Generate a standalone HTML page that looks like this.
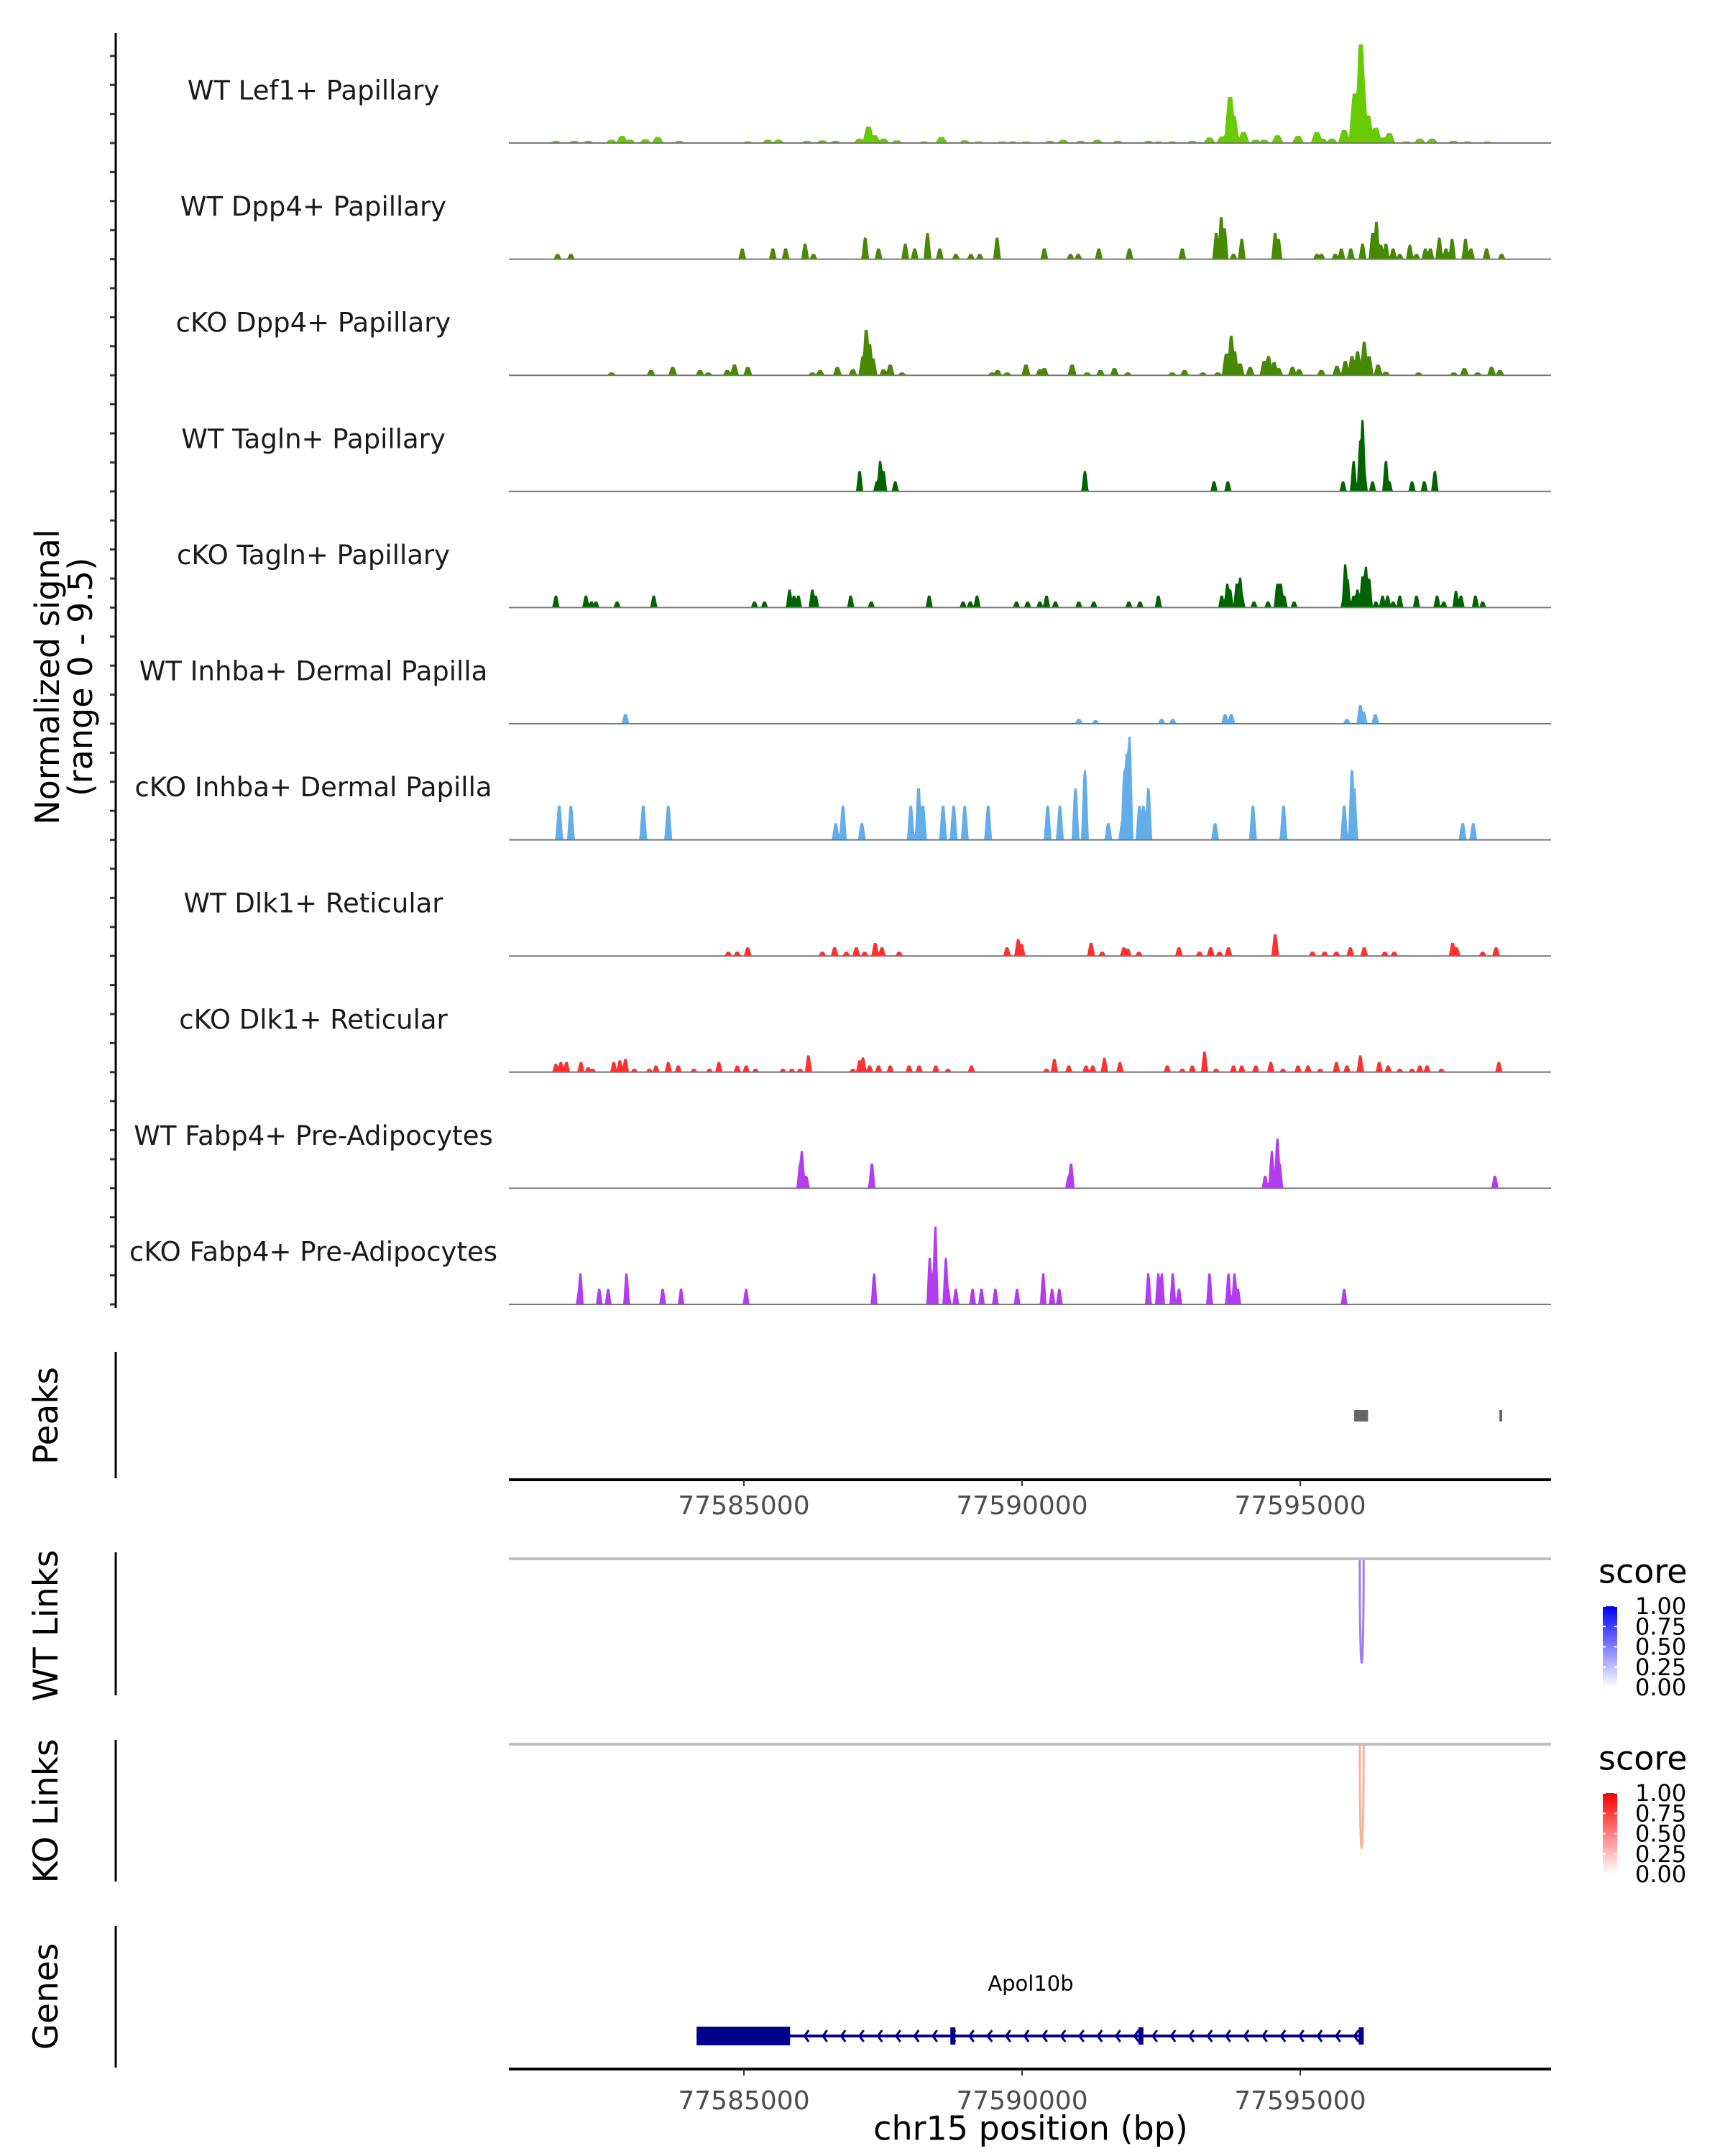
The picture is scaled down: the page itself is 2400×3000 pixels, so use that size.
<!DOCTYPE html>
<html><head><meta charset="utf-8"><style>
body{margin:0;background:#fff;}
svg{display:block;font-family:"DejaVu Sans","Liberation Sans",sans-serif;}
</style></head><body>
<svg id="fig" width="2400" height="3000" viewBox="0 0 2400 3000" xmlns="http://www.w3.org/2000/svg"></svg>
<script>
const REGION_START_BP = 77580000;
const xTickLabels = ["77585000","77590000","77595000"];
const xTickKb = [5, 10, 15];
const trackNames = ["WT Lef1+ Papillary","WT Dpp4+ Papillary","cKO Dpp4+ Papillary","WT Tagln+ Papillary","cKO Tagln+ Papillary","WT Inhba+ Dermal Papilla","cKO Inhba+ Dermal Papilla","WT Dlk1+ Reticular","cKO Dlk1+ Reticular","WT Fabp4+ Pre-Adipocytes","cKO Fabp4+ Pre-Adipocytes"];
// peak positions (kb from region start) and signal heights (0-9.5)
const lef1Pos = [1.62,1.95,2.20,2.62,2.81,2.95,3.23,3.45,3.84,5.07,5.43,5.62,6.13,6.41,6.65,7.08,7.24,7.35,7.51,7.75,8.24,8.55,8.97,9.22,9.64,9.83,10.07,10.50,10.74,11.05,11.35,11.72,12.27,12.45,12.70,13.06,13.37,13.60,13.74,13.80,13.98,14.20,14.35,14.59,14.96,15.30,15.40,15.57,15.79,15.98,16.09,16.12,16.22,16.36,16.50,16.60,16.91,17.15,17.37,17.76,18.01,18.37];
const lef1Val = [.2,.2,.2,.3,.65,.3,.35,.55,.2,.15,.3,.3,.2,.25,.2,.4,1.5,.7,.4,.25,.15,.55,.25,.15,.15,.15,.15,.2,.3,.2,.3,.2,.2,.15,.15,.2,.5,.6,4.2,2.5,1.0,.3,.3,.7,.65,1.0,.4,.4,1.2,4.5,9.0,5.5,2.5,1.4,.5,.9,.15,.4,.4,.2,.15,.15];
const dpp4WtPos = [1.65,1.89,4.97,5.52,5.75,6.10,6.25,7.18,7.42,7.90,8.07,8.30,8.52,8.81,9.08,9.24,9.55,10.40,10.87,11.01,11.38,11.93,12.88,13.49,13.58,13.64,13.80,13.95,14.55,14.61,15.30,15.38,15.63,15.74,15.91,16.12,16.30,16.37,16.45,16.54,16.67,16.79,16.97,17.09,17.25,17.34,17.50,17.62,17.73,17.97,18.07,18.35,18.62];
const dpp4WtVal = [.48,.48,.98,.98,.98,1.42,.48,1.97,.98,1.42,.98,2.4,.98,.48,.48,.48,1.97,.98,.48,.48,.98,.98,.98,2.4,3.82,2.84,.48,1.86,2.4,1.86,.48,.48,.48,.98,.98,1.42,2.4,3.39,1.31,1.42,.98,.48,1.31,.48,.98,.98,1.97,.98,1.86,1.86,.98,.98,.48];
const dpp4KoPos = [2.62,3.33,3.72,4.21,4.36,4.70,4.83,5.07,6.23,6.37,6.68,6.96,7.14,7.20,7.26,7.32,7.51,7.63,7.84,9.46,9.56,9.73,10.07,10.32,10.40,10.90,11.17,11.41,11.66,11.90,12.70,12.92,13.25,13.52,13.67,13.76,13.82,13.92,14.10,14.35,14.43,14.53,14.61,14.86,14.98,15.38,15.66,15.81,15.93,16.03,16.08,16.15,16.24,16.40,16.54,17.13,17.76,17.95,18.19,18.44,18.59];
const dpp4KoVal = [.26,.48,.76,.48,.26,.48,.98,.76,.26,.48,.76,.55,1.75,4.15,2.84,1.53,.55,.98,.26,.26,.48,.26,.98,.55,.66,.98,.26,.48,.66,.26,.26,.48,.26,.26,1.97,3.6,2.18,1.09,.76,1.31,1.75,1.2,.66,.76,.55,.48,.87,1.31,1.75,2.18,1.31,3.06,1.75,.98,.33,.26,.26,.66,.26,.76,.48];
const taglnWtPos = [7.08,7.39,7.45,7.51,7.72,11.13,13.45,13.70,15.77,15.96,16.08,16.12,16.15,16.30,16.54,16.60,17.01,17.23,17.42];
const taglnWtVal = [1.86,.92,2.77,1.86,.92,1.86,.92,.92,.92,2.77,4.63,6.51,1.86,.92,2.77,.92,.92,.92,1.86];
const taglnKoPos = [1.62,2.16,2.26,2.34,2.72,3.38,5.19,5.37,5.82,5.90,5.98,6.23,6.29,6.92,7.29,8.33,8.94,9.07,9.19,9.90,10.10,10.32,10.44,10.60,11.02,11.29,11.92,12.12,12.45,13.59,13.69,13.74,13.86,13.92,13.95,14.17,14.42,14.59,14.65,14.71,14.89,15.79,15.81,15.85,15.96,16.03,16.12,16.18,16.24,16.36,16.48,16.57,16.67,16.79,17.09,17.46,17.58,17.80,17.89,18.15,18.28];
const taglnKoVal = [1.09,1.09,.55,.55,.55,1.09,.55,.55,1.64,1.09,1.09,1.64,1.09,1.09,.55,1.09,.55,.55,1.09,.55,.55,.55,1.09,.55,.55,.55,.55,.55,1.09,1.09,2.18,1.64,2.18,2.73,1.09,.55,.55,2.18,2.18,1.09,.55,1.09,3.93,2.62,1.09,1.64,2.84,3.71,2.62,.55,1.09,1.09,.55,1.09,1.09,1.09,.55,1.53,1.09,1.09,.55];
const inhbaWtPos = [2.87,11.02,11.32,12.51,12.71,13.65,13.76,15.84,16.08,16.14,16.35];
const inhbaWtVal = [.87,.44,.33,.44,.44,.87,.87,.44,1.7,1.09,.87];
const inhbaKoPos = [1.68,1.89,3.19,3.64,6.65,6.78,7.12,8.00,8.14,8.22,8.58,8.77,8.97,9.39,10.46,10.68,10.96,11.13,11.55,11.80,11.84,11.88,11.93,12.11,12.18,12.27,13.47,14.15,14.70,15.79,15.93,15.97,17.92,18.11];
const inhbaKoVal = [3.12,3.12,3.12,3.12,1.53,3.12,1.53,3.12,4.7,3.12,3.12,3.12,3.12,3.12,3.12,3.12,4.7,6.33,1.53,1.53,6.33,7.86,9.4,3.12,3.12,4.7,1.53,3.12,3.12,3.12,6.33,4.7,1.53,1.53];
const dlk1WtPos = [4.72,4.88,5.07,6.41,6.63,6.84,7.02,7.17,7.36,7.48,7.79,9.73,9.93,9.99,11.24,11.44,11.83,11.90,12.10,12.82,13.19,13.39,13.55,13.71,14.55,15.22,15.44,15.65,15.90,16.15,16.52,16.69,17.74,17.81,18.28,18.52];
const dlk1WtVal = [.39,.39,.79,.39,.79,.39,.79,.39,1.2,.79,.39,.79,1.53,1.09,1.2,.39,.79,.66,.39,.79,.39,.79,.39,.79,1.97,.39,.39,.39,.79,.79,.39,.39,1.2,.79,.39,.79];
const dlk1KoPos = [1.62,1.71,1.81,2.07,2.20,2.28,2.66,2.77,2.87,3.03,3.30,3.42,3.64,3.82,4.10,4.38,4.55,4.88,5.04,5.21,5.70,5.86,6.01,6.16,6.96,7.08,7.14,7.26,7.42,7.63,7.97,8.15,8.45,8.67,9.09,10.44,10.58,10.84,11.15,11.27,11.48,11.76,12.61,12.88,13.06,13.28,13.49,13.80,13.95,14.20,14.47,14.69,14.96,15.14,15.36,15.65,15.84,16.08,16.42,16.58,16.79,17.01,17.15,17.28,17.54,18.57];
const dlk1KoVal = [.76,.92,.92,.92,.44,.31,.92,1.09,1.2,.31,.31,.61,.92,.61,.31,.31,.92,.61,.61,.31,.31,.31,.31,1.53,.31,1.09,1.35,.61,.61,.61,.61,.61,.61,.31,.61,.31,1.2,.61,.61,.61,1.31,.92,.61,.31,.61,1.86,.31,.61,.61,.61,.92,.31,.61,.61,.31,.92,.61,1.53,.92,.61,.31,.31,.61,.61,.31,.92];
const fabp4WtPos = [6.01,6.04,6.12,7.29,7.30,10.84,10.88,14.37,14.49,14.59,14.63,18.50];
const fabp4WtVal = [2.25,3.39,1.14,1.14,2.25,1.14,2.25,1.14,3.39,4.52,2.25,1.14];
const fabp4KoPos = [2.04,2.06,2.40,2.56,2.89,3.54,3.87,5.04,7.34,8.34,8.39,8.44,8.63,8.67,8.81,9.11,9.27,9.52,9.91,10.38,10.54,10.67,12.27,12.45,12.51,12.71,12.82,13.37,13.71,13.82,13.88,15.79];
const fabp4KoVal = [1.42,2.84,1.42,1.42,2.84,1.42,1.42,1.42,2.84,4.26,2.84,7.1,4.26,1.42,1.42,1.42,1.42,1.42,1.42,2.84,1.42,1.42,2.84,2.84,2.84,2.84,1.42,2.84,2.84,2.84,1.42,1.42];
const peakStartKb = [15.97, 18.58];
const peakEndKb = [16.22, 18.63];
const geneUtrKb = [4.15, 5.83];
const geneSpanKb = [4.15, 16.12];
const geneExonKb = [8.75, 12.13, 16.09];
const wtLinkKb = [16.07, 16.14];
const koLinkKb = [16.07, 16.14];
const legendTicks = ["1.00","0.75","0.50","0.25","0.00"];

const NS="http://www.w3.org/2000/svg";
const svg=document.getElementById('fig');
function mk(tag,attrs,parent){const e=document.createElementNS(NS,tag);for(const k in attrs)e.setAttribute(k,attrs[k]);(parent||svg).appendChild(e);return e;}
const X0=708,X1=2158;
function xs(kb){return 1035+(kb-5)*77.4;}
const TRACK_H=145, YMAX=9.5, B0=199, DY=161.6;
function ys(v,base){return base-v/YMAX*TRACK_H;}

const tracks=[[lef1Pos,lef1Val,'#66cc00',0.22],[dpp4WtPos,dpp4WtVal,'#458a00',0.14],[dpp4KoPos,dpp4KoVal,'#458a00',0.16],[taglnWtPos,taglnWtVal,'#006400',0.13],[taglnKoPos,taglnKoVal,'#006400',0.13],[inhbaWtPos,inhbaWtVal,'#62adea',0.14],[inhbaKoPos,inhbaKoVal,'#62adea',0.14],[dlk1WtPos,dlk1WtVal,'#ff3030',0.14],[dlk1KoPos,dlk1KoVal,'#ff3030',0.13],[fabp4WtPos,fabp4WtVal,'#b33cee',0.13],[fabp4KoPos,fabp4KoVal,'#b33cee',0.12]];

const axis=mk('line',{x1:161,y1:46,x2:161,y2:1820,stroke:'#000','stroke-width':3});


for(let t=0;t<11;t++){
  const base=B0+t*DY;
  for(let k=0;k<4;k++){
    const ty=base-k*DY/4;
    const tk=mk('line',{x1:153,y1:ty,x2:160,y2:ty,stroke:'#333','stroke-width':3});
    
    
  }
}
const yt=mk('text',{x:0,y:0,'font-size':46,'text-anchor':'middle',fill:'#000',transform:'translate(82,942) rotate(-90)'});


yt.innerHTML='<tspan x="0" dy="0">Normalized signal</tspan><tspan x="0" dy="46">(range 0 - 9.5)</tspan>';

tracks.forEach((tr,i)=>{
  const [pos,val,col,w]=tr; const base=B0+i*DY;
  const lbl=mk('text',{x:436,y:base-71,'font-size':37,'text-anchor':'middle','dominant-baseline':'middle',fill:'#1a1a1a'});
  lbl.textContent=trackNames[i];
  
  
  let d='M'+X0+','+base;
  for(let px=X0;px<=X1;px++){
    const kb=5+(px-1035)/77.4; let v=0;
    for(let j=0;j<pos.length;j++){const dd=Math.abs(kb-pos[j]);if(dd<w/2){const f=Math.min(1,1.6*(1-dd/(w/2)));v=Math.max(v,val[j]*f);}}
    d+=' L'+px+','+ys(v,base).toFixed(1);
  }
  d+=' L'+X1+','+base+' Z';
  const area=mk('path',{d:d,fill:col,stroke:'none'});
  
  
  const bl=mk('line',{x1:X0,y1:base,x2:X1,y2:base,stroke:'#777','stroke-width':2});
  
  
});

function sideLabel(txt,y,name,y1,y2){
  const t=mk('text',{x:0,y:0,'font-size':47,'text-anchor':'middle',fill:'#000',transform:'translate(80,'+y+') rotate(-90)'});
  t.textContent=txt;
  
  
  const l=mk('line',{x1:161,y1:y1,x2:161,y2:y2,stroke:'#000','stroke-width':3});
  
  
}
sideLabel('Peaks',1970,'peaks-title',1881,2057);
sideLabel('WT Links',2262,'wt-links-title',2160,2359);
sideLabel('KO Links',2520,'ko-links-title',2421,2618);
sideLabel('Genes',2778,'genes-title',2680,2877);

peakStartKb.forEach((s,i)=>{
  const r=mk('rect',{x:xs(s),y:1962,width:Math.max(3,xs(peakEndKb[i])-xs(s)),height:16,fill:'#666'});
  
  
});

function xAxis(y,labY,name){
  const a=mk('line',{x1:X0,y1:y,x2:X1,y2:y,stroke:'#000','stroke-width':4});
  
  
  xTickKb.forEach((kb,i)=>{
    const tk=mk('line',{x1:xs(kb),y1:y,x2:xs(kb),y2:y+9,stroke:'#333','stroke-width':2});
    
    
    const tl=mk('text',{x:xs(kb),y:labY,'font-size':36,'text-anchor':'middle','dominant-baseline':'middle',fill:'#4d4d4d'});
    tl.textContent=xTickLabels[i];
    
    
  });
}
xAxis(2059,2097,'peaks-x-axis');
xAxis(2879,2925,'genes-x-axis');
const xt=mk('text',{x:1434,y:2965,'font-size':46,'text-anchor':'middle','dominant-baseline':'middle',fill:'#000'});
xt.textContent='chr15 position (bp)';



const defs=mk('defs',{});
function grad(id,col){const g=mk('linearGradient',{id:id,x1:0,y1:1,x2:0,y2:0},defs);mk('stop',{offset:0,'stop-color':'#fff'},g);mk('stop',{offset:1,'stop-color':col},g);}
grad('gb','#0000ff');grad('gr','#ff0000');
function linkPanel(top,bottom,kbs,col,gid,legY,prefix){
  const g=mk('line',{x1:X0,y1:top,x2:X1,y2:top,stroke:'#bebebe','stroke-width':4});
  
  
  const a=xs(kbs[0]),b=xs(kbs[1]);
  const p=mk('path',{d:'M'+a+','+(top+2)+' C'+a+','+(bottom+8)+' '+b+','+(bottom+8)+' '+b+','+(top+2),fill:'none',stroke:col,'stroke-width':3});
  
  
  const st=mk('text',{x:2224,y:legY,'font-size':46,'dominant-baseline':'middle',fill:'#000'});
  st.textContent='score';
  
  
  const by=legY+45;
  const bar=mk('rect',{x:2230,y:by,width:20,height:113,fill:'url(#'+gid+')'});
  
  
  legendTicks.forEach((t,i)=>{
    const yy=by+i*113/4;
    mk('line',{x1:2230,y1:yy,x2:2234,y2:yy,stroke:'#fff','stroke-width':2});
    mk('line',{x1:2246,y1:yy,x2:2250,y2:yy,stroke:'#fff','stroke-width':2});
    const lt=mk('text',{x:2275,y:yy+2,'font-size':32,'dominant-baseline':'middle',fill:'#000'});
    lt.textContent=t;
    
    
  });
}
linkPanel(2169,2353,wtLinkKb,'#a07ef2','gb',2190,'wt');
linkPanel(2427,2611,koLinkKb,'#f7b39c','gr',2450,'ko');

const gl=mk('text',{x:1434,y:2762,'font-size':29,'text-anchor':'middle','dominant-baseline':'middle',fill:'#000'});
gl.textContent='Apol10b';


const gy=2833;
const gline=mk('line',{x1:xs(geneSpanKb[0]),y1:gy,x2:xs(geneSpanKb[1]),y2:gy,stroke:'#00008b','stroke-width':4});


const utr=mk('rect',{x:xs(geneUtrKb[0]),y:gy-13,width:xs(geneUtrKb[1])-xs(geneUtrKb[0]),height:26,fill:'#00008b'});


for(let px=xs(geneUtrKb[1])+20;px<xs(geneSpanKb[1])-8;px+=25.5){
  const ar=mk('path',{d:'M'+(px+6)+','+(gy-8)+' L'+px+','+gy+' L'+(px+6)+','+(gy+8),fill:'none',stroke:'#00008b','stroke-width':3});
  
  
}
geneExonKb.forEach(kb=>{
  const ex=mk('rect',{x:xs(kb)-3,y:gy-12,width:7,height:24,fill:'#00008b'});
  
  
});
</script>
</body></html>
